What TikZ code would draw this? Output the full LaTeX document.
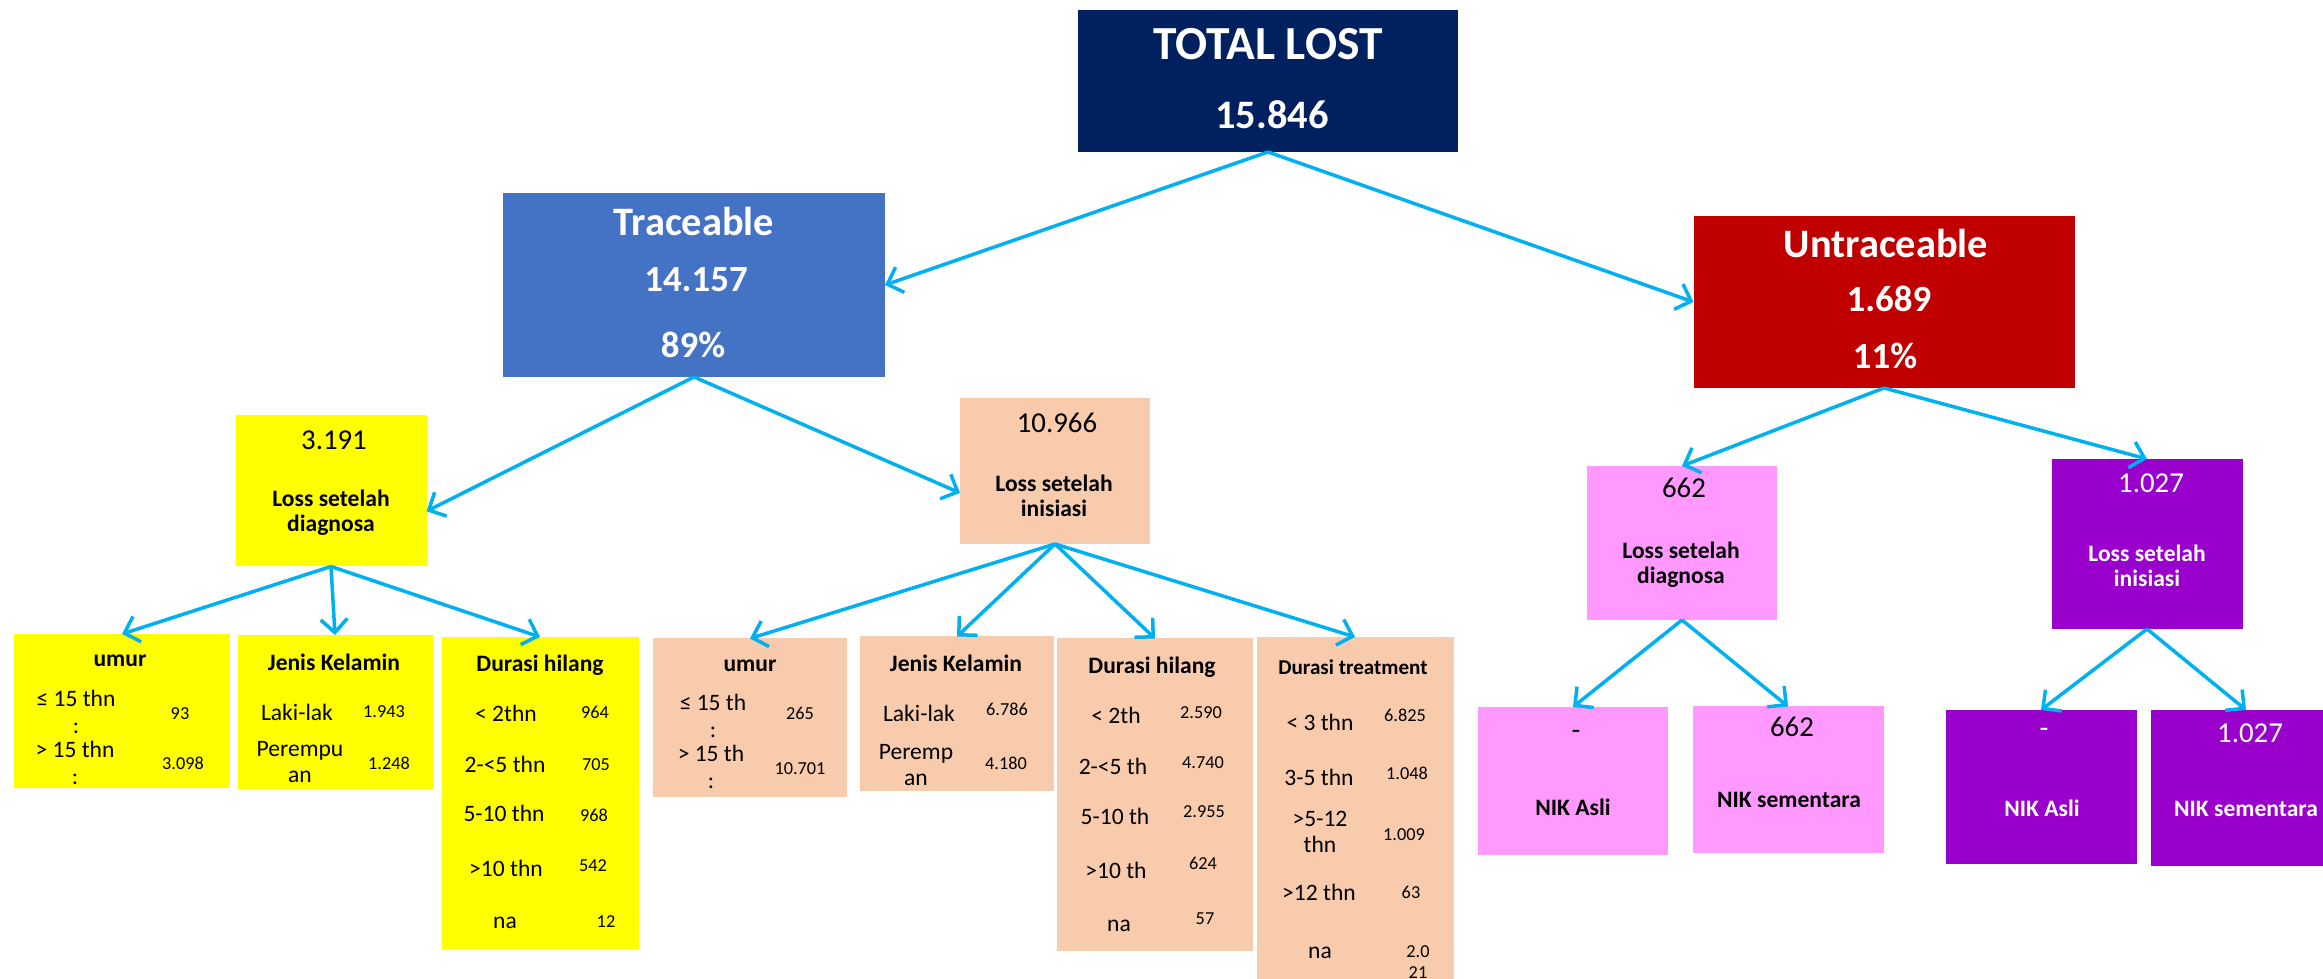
\documentclass[tikz,border=0pt]{standalone}
\usepackage{fontspec}
\setmainfont{Carlito}
\usetikzlibrary{arrows.meta}
\definecolor{navy}{HTML}{002060}
\definecolor{tblue}{HTML}{4472C4}
\definecolor{ured}{HTML}{C00000}
\definecolor{ylw}{HTML}{FFFF00}
\definecolor{peach}{HTML}{F8CBAD}
\definecolor{pinkm}{HTML}{FF99FF}
\definecolor{vio}{HTML}{9900CC}
\definecolor{linkc}{HTML}{00B0F0}
\begin{document}
\begin{tikzpicture}[x=0.1mm, y=-0.1mm,
  >={Straight Barb[length=3.8pt,width=7.6pt]},
  conn/.style={->, draw=linkc, line width=1pt},
  box/.style={inner sep=0pt, outer sep=0pt},
  txt/.style={inner sep=0pt, align=center},
  ttl/.style={txt, text=white, font=\fontsize{13.5}{16}\selectfont\bfseries},
  head/.style={txt, text=white, font=\fontsize{11.5}{14}\selectfont\bfseries},
  num/.style={txt, text=white, font=\fontsize{10.5}{12}\selectfont\bfseries},
  cnt/.style={txt, font=\fontsize{8.2}{10}\selectfont},
  lbl/.style={txt, font=\fontsize{6.7}{7}\selectfont\bfseries},
  cell/.style={txt, font=\fontsize{6.7}{7.5}\selectfont},
  val/.style={txt, font=\fontsize{5.2}{6}\selectfont}]
\clip (0,0) rectangle (2323,979);
% top level
\node[box, fill=navy, minimum width=38mm, minimum height=14.2mm] (total) at (1268,81) {};
\node[ttl] (total-a) at (1268,44) {TOTAL LOST};
\node[head] (total-b) at (1272,115) {15.846};
\node[box, fill=tblue, minimum width=38.2mm, minimum height=18.4mm] (trace) at (694,285) {};
\node[head] (trace-a) at (694,221) {Traceable};
\node[num] (trace-b) at (696,280) {14.157};
\node[num] (trace-c) at (693,345) {89\%};
\node[box, fill=ured, minimum width=38.1mm, minimum height=17.2mm] (untr) at (1884,302) {};
\node[head] (untr-a) at (1886,243) {Untraceable};
\node[num] (untr-b) at (1889,299) {1.689};
\node[num] (untr-c) at (1885,356) {11\%};
% second level
\node[box, fill=ylw, minimum width=19.1mm, minimum height=15.1mm] (ydiag) at (331,491) {};
\node[cnt] (ydiag-a) at (334,440) {3.191};
\node[lbl] (ydiag-b) at (331,513) {Loss setelah\\diagnosa};
\node[box, fill=peach, minimum width=19mm, minimum height=14.6mm] (pinis) at (1055,471) {};
\node[cnt] (pinis-a) at (1057,423) {10.966};
\node[lbl] (pinis-b) at (1054,496) {Loss setelah\\inisiasi};
\node[box, fill=pinkm, minimum width=19.05mm, minimum height=15.4mm] (mdiag) at (1682,543) {};
\node[cnt] (mdiag-a) at (1684,488) {662};
\node[lbl] (mdiag-b) at (1681,565) {Loss setelah\\diagnosa};
\node[box, fill=vio, minimum width=19.1mm, minimum height=17mm] (vinis) at (2147,544) {};
\node[cnt, text=white] (vinis-a) at (2151,483) {1.027};
\node[lbl, text=white] (vinis-b) at (2147,566) {Loss setelah\\inisiasi};
% NIK boxes
\node[box, fill=pinkm, minimum width=19.05mm, minimum height=14.8mm] (mnik) at (1573,781) {};
\node[cnt] (mnik-a) at (1576,735) {-};
\node[lbl] (mnik-b) at (1573,807) {NIK Asli};
\node[box, fill=pinkm, minimum width=19.1mm, minimum height=14.7mm] (mniks) at (1788,780) {};
\node[cnt] (mniks-a) at (1792,727) {662};
\node[lbl] (mniks-b) at (1789,800) {NIK sementara};
\node[box, fill=vio, minimum width=19.1mm, minimum height=15.4mm] (vnik) at (2041,787) {};
\node[cnt, text=white] (vnik-a) at (2044,733) {-};
\node[lbl, text=white] (vnik-b) at (2042,808) {NIK Asli};
\node[box, fill=vio, minimum width=19.1mm, minimum height=15.6mm] (vniks) at (2246,788) {};
\node[cnt, text=white] (vniks-a) at (2250,733) {1.027};
\node[lbl, text=white] (vniks-b) at (2246,809) {NIK sementara};
% yellow tables
\node[box, fill=ylw, minimum width=21.6mm, minimum height=15.4mm] (yumur) at (122,711) {};
\node[lbl] (yumur-h) at (120,661) {umur};
\node[cell] (yumur-1) at (76,712) {≤ 15 thn\\:};
\node[val] (yumur-1v) at (180,714) {93};
\node[cell] (yumur-2) at (75,763) {> 15 thn\\:};
\node[val] (yumur-2v) at (183,763) {3.098};
\node[box, fill=ylw, minimum width=19.5mm, minimum height=15.4mm] (yjk) at (335,712) {};
\node[lbl] (yjk-h) at (334,662) {Jenis Kelamin};
\node[cell] (yjk-1) at (297,712) {Laki-lak};
\node[val] (yjk-1v) at (384,712) {1.943};
\node[cell] (yjk-2) at (300,762) {Perempu\\an};
\node[val] (yjk-2v) at (389,763) {1.248};
\node[box, fill=ylw, minimum width=19.7mm, minimum height=31.2mm] (ydh) at (540,793) {};
\node[lbl] (ydh-h) at (540,665) {Durasi hilang};
\node[cell] (ydh-1) at (506,713) {< 2thn};
\node[val] (ydh-1v) at (595,712) {964};
\node[cell] (ydh-2) at (505,764) {2-<5 thn};
\node[val] (ydh-2v) at (596,765) {705};
\node[cell] (ydh-3) at (504,813) {5-10 thn};
\node[val] (ydh-3v) at (594,815) {968};
\node[cell] (ydh-4) at (506,868) {>10 thn};
\node[val] (ydh-4v) at (593,866) {542};
\node[cell] (ydh-5) at (505,923) {na};
\node[val] (ydh-5v) at (606,922) {12};
% peach tables
\node[box, fill=peach, minimum width=19.4mm, minimum height=15.9mm] (pumur) at (750,718) {};
\node[lbl] (pumur-h) at (750,666) {umur};
\node[cell] (pumur-1) at (713,716) {≤ 15 th\\:};
\node[val] (pumur-1v) at (800,713) {265};
\node[cell] (pumur-2) at (711,767) {> 15 th\\:};
\node[val] (pumur-2v) at (800,769) {10.701};
\node[box, fill=peach, minimum width=19.4mm, minimum height=15.5mm] (pjk) at (957,714) {};
\node[lbl] (pjk-h) at (956,663) {Jenis Kelamin};
\node[cell] (pjk-1) at (919,713) {Laki-lak};
\node[val] (pjk-1v) at (1007,709) {6.786};
\node[cell] (pjk-2) at (916,765) {Peremp\\an};
\node[val] (pjk-2v) at (1006,763) {4.180};
\node[box, fill=peach, minimum width=19.6mm, minimum height=31.3mm] (pdh) at (1155,795) {};
\node[lbl] (pdh-h) at (1152,667) {Durasi hilang};
\node[cell] (pdh-1) at (1116,715) {< 2th};
\node[val] (pdh-1v) at (1201,713) {2.590};
\node[cell] (pdh-2) at (1113,766) {2-<5 th};
\node[val] (pdh-2v) at (1203,763) {4.740};
\node[cell] (pdh-3) at (1115,816) {5-10 th};
\node[val] (pdh-3v) at (1204,812) {2.955};
\node[cell] (pdh-4) at (1116,870) {>10 th};
\node[val] (pdh-4v) at (1203,863) {624};
\node[cell] (pdh-5) at (1119,926) {na};
\node[val] (pdh-5v) at (1205,919) {57};
\node[box, fill=peach, minimum width=19.7mm, minimum height=35mm] (pdt) at (1355,812) {};
\node[lbl, font=\fontsize{6}{7}\selectfont\bfseries] (pdt-h) at (1353,667) {Durasi treatment};
\node[cell] (pdt-1) at (1320,722) {< 3 thn};
\node[val] (pdt-1v) at (1405,715) {6.825};
\node[cell] (pdt-2) at (1319,777) {3-5 thn};
\node[val] (pdt-2v) at (1407,773) {1.048};
\node[cell] (pdt-3) at (1320,832) {>5-12\\thn};
\node[val] (pdt-3v) at (1404,835) {1.009};
\node[cell] (pdt-4) at (1319,892) {>12 thn};
\node[val] (pdt-4v) at (1411,892) {63};
\node[cell] (pdt-5) at (1320,953) {na};
\node[val] (pdt-5v) at (1418,962) {2.0\\21};
% connectors
\draw[conn] (total.south) to (trace.east);
\draw[conn] (total.south) to (untr.west);
\draw[conn] (trace.south) to (ydiag.-12);
\draw[conn] (trace.south) to (pinis.193);
\draw[conn] (ydiag.south) to (yumur.north);
\draw[conn] (ydiag.south) to (yjk.north);
\draw[conn] (ydiag.south) to (ydh.north);
\draw[conn] (pinis.south) to (pumur.north);
\draw[conn] (pinis.south) to (pjk.north);
\draw[conn] (pinis.south) to (pdh.north);
\draw[conn] (pinis.south) to (pdt.north);
\draw[conn] (untr.south) to (mdiag.north);
\draw[conn] (untr.south) to (vinis.north);
\draw[conn] (mdiag.south) to (mnik.north);
\draw[conn] (mdiag.south) to (mniks.north);
\draw[conn] (vinis.south) to (vnik.north);
\draw[conn] (vinis.south) to (vniks.north);
\end{tikzpicture}
\end{document}
